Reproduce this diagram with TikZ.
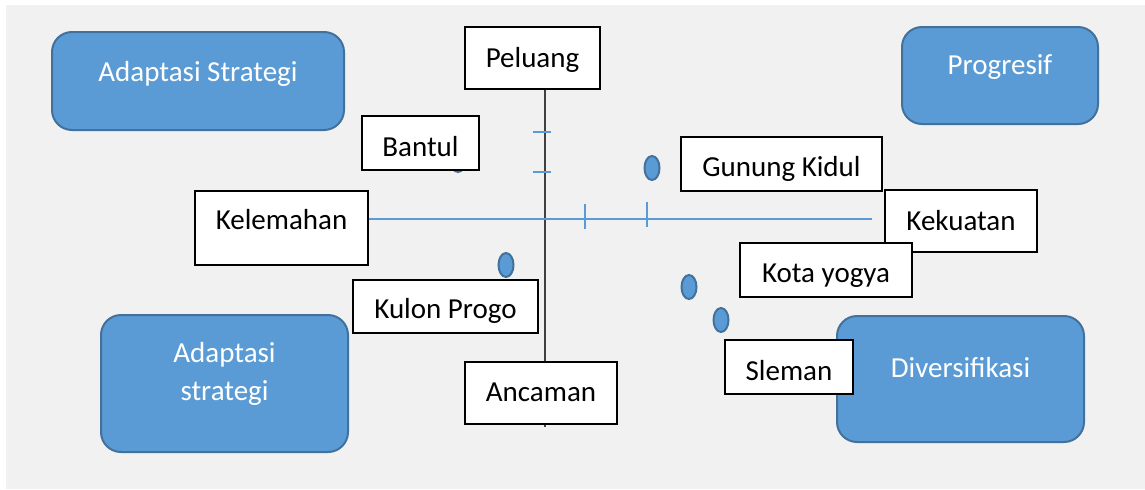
\documentclass[tikz,border=0pt]{standalone}
\usepackage{fontspec}
\setmainfont{Carlito}
\usepackage{tikz}
\usetikzlibrary{shapes}

\definecolor{swotblue}{HTML}{5B9BD5}
\definecolor{swotedge}{HTML}{41719C}
\definecolor{swotgray}{HTML}{F1F1F1}
\definecolor{axisgray}{HTML}{404040}

\begin{document}
\begin{tikzpicture}[x=0.75pt,y=-0.75pt,
  lbl/.style={draw=black,line width=1pt,fill=white,inner sep=0pt,text height=20pt,
    font=\fontsize{21.75}{29}\selectfont},
  strat/.style={draw=swotedge,line width=1.5pt,fill=swotblue,rounded corners=15pt,
    text=white,align=center,inner sep=0pt,font=\fontsize{21.75}{29}\selectfont},
  dot/.style={ellipse,draw=swotedge,line width=1.5pt,fill=swotblue,
    minimum width=11.25pt,minimum height=18pt,inner sep=0pt}]
  \useasboundingbox (0,0) rectangle (1145,489);
  \fill[swotgray] (6,5) rectangle (1145,489);

  % axes
  \coordinate (vbot) at (545,427);
  \coordinate (hend) at (872,219);
  \node [lbl,minimum width=101.25pt,minimum height=46.5pt,text depth=6.5pt] (peluang) at (532.5,58) {Peluang};
  \node [lbl,minimum width=129.75pt,minimum height=55.5pt,text depth=18.5pt] (kelemahan) at (281.5,228) {Kelemahan};
  \draw [axisgray,line width=1.2pt] (peluang.south -| vbot) -- (vbot);
  \draw [swotblue,line width=0.8pt] (kelemahan.east |- hend) -- (hend);
  \foreach \y in {132,172}
  \draw [swotblue,line width=0.8pt] (533,\y) -- (551,\y);
  \draw [swotblue,line width=0.8pt] (585,204) -- (585,229);
  \draw [swotblue,line width=0.8pt] (647,202) -- (647,227);

  % daerah
  \node [dot] (dbantul) at (458,160) {};
  \node [dot] (dgunung) at (652,168) {};
  \node [dot] (dkulon) at (506,265) {};
  \node [dot] (dkota) at (689,287) {};
  \node [dot] (dsleman) at (721,320) {};

  \node [lbl,minimum width=114pt,minimum height=46.5pt,text depth=7.5pt] (ancaman) at (541,393) {Ancaman};
  \node [lbl,minimum width=87.75pt,minimum height=40.5pt,text depth=0.5pt] (bantul) at (420.5,143) {Bantul};
  \node [lbl,minimum width=150.75pt,minimum height=40.5pt,text depth=2pt] (gunung) at (781.5,164) {Gunung Kidul};
  \node [lbl,minimum width=114pt,minimum height=46.5pt,text depth=6.5pt] (kekuatan) at (961,221) {Kekuatan};
  \node [lbl,minimum width=129pt,minimum height=40.5pt,text depth=1pt] (kota) at (826,270) {Kota yogya};
  \node [lbl,minimum width=138.75pt,minimum height=39.75pt,text depth=2pt] (kulon) at (445.5,306.5) {Kulon Progo};

  % strategi
  \node [strat,minimum width=219pt,minimum height=73.5pt,text height=15pt,text depth=15pt] (adapt1) at (198,81) {Adaptasi Strategi};
  \node [strat,minimum width=147pt,minimum height=72.75pt,text height=15pt,text depth=17pt] (progresif) at (1000,75.5) {Progresif};
  \node [strat,minimum width=185.25pt,minimum height=102.75pt,text depth=18pt] (adapt2) at (224.5,383.5) {Adaptasi\\strategi};
  \node [strat,minimum width=185.25pt,minimum height=94.5pt,text height=15pt,text depth=17pt] (divers) at (960.5,379) {Diversifikasi};
  \node [lbl,minimum width=96pt,minimum height=40.5pt,text depth=0.5pt] (sleman) at (789,367) {Sleman};
\end{tikzpicture}
\end{document}
